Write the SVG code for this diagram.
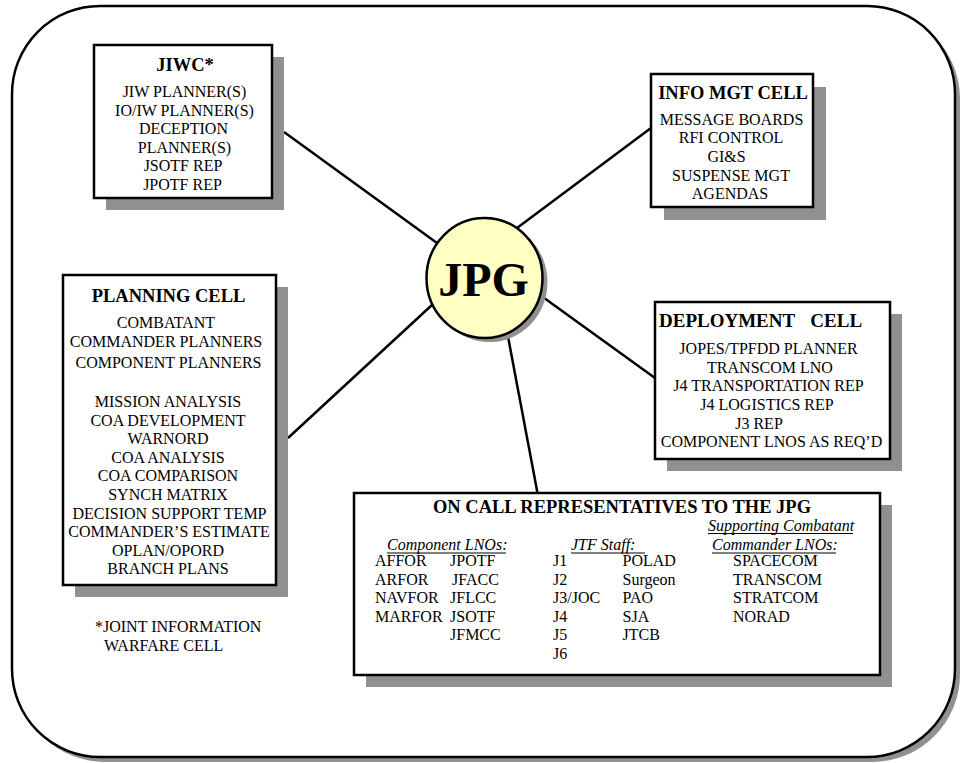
<svg xmlns="http://www.w3.org/2000/svg" width="964" height="763" viewBox="0 0 964 763">
  <style>
    .frame { fill: #ffffff; stroke: #000000; stroke-width: 2.5; }
    .shadow { fill: #909090; }
    .box { fill: #ffffff; stroke: #000000; stroke-width: 2.5; }
    .hub { fill: #ffffc4; stroke: #000000; stroke-width: 2.5; }
    .link { stroke: #000000; stroke-width: 2.5; fill: none; }
    .ul { stroke: #000000; stroke-width: 1; }
    text { font-family: "Liberation Serif", "Times New Roman", serif; fill: #000000; }
    .title { font-size: 18.5px; font-weight: bold; text-anchor: middle; }
    .item { font-size: 16px; text-anchor: middle; }
    .left { font-size: 16px; }
    .head { font-size: 16px; font-style: italic; }
  </style>

  <rect x="0" y="0" width="964" height="763" fill="#ffffff"/>

  <!-- rounded outer frame with drop shadow -->
  <g id="frame">
    <rect class="shadow" x="17" y="11" width="943" height="751" rx="88" ry="88"/>
    <rect class="frame" x="12" y="6" width="943" height="751" rx="88" ry="88"/>
  </g>

  <!-- spokes from the hub to each cell -->
  <g id="connectors">
    <line class="link" x1="284" y1="132" x2="437" y2="243"/>
    <line class="link" x1="651" y1="128" x2="517" y2="228"/>
    <line class="link" x1="288" y1="438" x2="432.5" y2="304.5"/>
    <line class="link" x1="655" y1="378" x2="540" y2="295"/>
    <line class="link" x1="537.5" y1="493" x2="507.5" y2="334"/>
  </g>

  <g id="jiwc">
    <rect class="shadow" x="106" y="57" width="178" height="153"/>
    <rect class="box" x="94" y="45" width="178" height="153"/>
    <text class="title" x="185" y="71">JIWC*</text>
    <text class="item" x="184.5" y="97">JIW PLANNER(S)</text>
    <text class="item" x="184.5" y="115.6">IO/IW PLANNER(S)</text>
    <text class="item" x="183.5" y="134.2">DECEPTION</text>
    <text class="item" x="184.5" y="152.8">PLANNER(S)</text>
    <text class="item" x="183" y="171.4">JSOTF REP</text>
    <text class="item" x="182.5" y="190">JPOTF REP</text>
  </g>

  <g id="info-mgt-cell">
    <rect class="shadow" x="664" y="87" width="162" height="133"/>
    <rect class="box" x="651" y="74" width="162" height="133"/>
    <text class="title" x="733" y="99">INFO MGT CELL</text>
    <text class="item" x="731.5" y="124.8">MESSAGE BOARDS</text>
    <text class="item" x="731" y="143.4">RFI CONTROL</text>
    <text class="item" x="726.5" y="162">GI&amp;S</text>
    <text class="item" x="731" y="180.6">SUSPENSE MGT</text>
    <text class="item" x="730" y="199.2">AGENDAS</text>
  </g>

  <g id="jpg">
    <ellipse class="shadow" cx="489.5" cy="282" rx="58" ry="60"/>
    <ellipse class="hub" cx="484.5" cy="278" rx="58" ry="60"/>
    <text x="483.5" y="296" font-size="48" font-weight="bold" text-anchor="middle">JPG</text>
  </g>

  <g id="planning-cell">
    <rect class="shadow" x="75" y="287" width="213" height="310"/>
    <rect class="box" x="63" y="275" width="213" height="310"/>
    <text class="title" x="168.5" y="302">PLANNING CELL</text>
    <text class="item" x="166" y="328">COMBATANT</text>
    <text class="item" x="166" y="346.6">COMMANDER PLANNERS</text>
    <text class="item" x="168.5" y="368">COMPONENT PLANNERS</text>
    <text class="item" x="168" y="407">MISSION ANALYSIS</text>
    <text class="item" x="168" y="425.6">COA DEVELOPMENT</text>
    <text class="item" x="168" y="444.2">WARNORD</text>
    <text class="item" x="168" y="462.8">COA ANALYSIS</text>
    <text class="item" x="168" y="481.4">COA COMPARISON</text>
    <text class="item" x="168" y="500">SYNCH MATRIX</text>
    <text class="item" x="169.5" y="518.6">DECISION SUPPORT TEMP</text>
    <text class="item" x="169" y="537.2">COMMANDER’S ESTIMATE</text>
    <text class="item" x="168" y="555.8">OPLAN/OPORD</text>
    <text class="item" x="168" y="574.4">BRANCH PLANS</text>
  </g>

  <g id="deployment-cell">
    <rect class="shadow" x="667" y="314" width="235" height="157"/>
    <rect class="box" x="655" y="302" width="235" height="157"/>
    <text x="659" y="327" font-size="19" font-weight="bold" word-spacing="3" xml:space="preserve">DEPLOYMENT  CELL</text>
    <text class="item" x="768.5" y="354">JOPES/TPFDD PLANNER</text>
    <text class="item" x="770" y="372.7">TRANSCOM LNO</text>
    <text class="item" x="768.5" y="391.4">J4 TRANSPORTATION REP</text>
    <text class="item" x="767" y="410">J4 LOGISTICS REP</text>
    <text class="item" x="759" y="428.7">J3 REP</text>
    <text class="item" x="771.5" y="447.4">COMPONENT LNOS AS REQ’D</text>
  </g>

  <g id="on-call-representatives">
    <rect class="shadow" x="366" y="505" width="526" height="182"/>
    <rect class="box" x="354" y="493" width="526" height="182"/>
    <text class="title" x="622" y="512.5">ON CALL REPRESENTATIVES TO THE JPG</text>

    <text class="head" x="708" y="530.5">Supporting Combatant</text>
    <line class="ul" x1="708" y1="533.5" x2="853" y2="533.5"/>
    <text class="head" x="387" y="550">Component LNOs:</text>
    <line class="ul" x1="387" y1="553" x2="506" y2="553"/>
    <text class="head" x="571" y="550">JTF Staff:</text>
    <line class="ul" x1="571" y1="553" x2="645" y2="553"/>
    <text class="head" x="712" y="550">Commander LNOs:</text>
    <line class="ul" x1="712" y1="553" x2="836" y2="553"/>

    <text class="left" x="375" y="566">AFFOR</text>
    <text class="left" x="375" y="584.5">ARFOR</text>
    <text class="left" x="375" y="603">NAVFOR</text>
    <text class="left" x="375" y="621.5">MARFOR</text>

    <text class="left" x="450" y="566">JPOTF</text>
    <text class="left" x="452" y="584.5">JFACC</text>
    <text class="left" x="450" y="603">JFLCC</text>
    <text class="left" x="450" y="621.5">JSOTF</text>
    <text class="left" x="450" y="640">JFMCC</text>

    <text class="left" x="553" y="566">J1</text>
    <text class="left" x="553" y="584.5">J2</text>
    <text class="left" x="553" y="603">J3/JOC</text>
    <text class="left" x="553" y="621.5">J4</text>
    <text class="left" x="553" y="640">J5</text>
    <text class="left" x="553" y="658.5">J6</text>

    <text class="left" x="622.5" y="566">POLAD</text>
    <text class="left" x="622.5" y="584.5">Surgeon</text>
    <text class="left" x="622.5" y="603">PAO</text>
    <text class="left" x="622.5" y="621.5">SJA</text>
    <text class="left" x="622.5" y="640">JTCB</text>

    <text class="left" x="733" y="566">SPACECOM</text>
    <text class="left" x="733" y="584.5">TRANSCOM</text>
    <text class="left" x="733" y="603">STRATCOM</text>
    <text class="left" x="733" y="622">NORAD</text>
  </g>

  <g id="footnote">
    <text class="left" x="95" y="632">*JOINT INFORMATION</text>
    <text class="left" x="104" y="651">WARFARE CELL</text>
  </g>
</svg>
